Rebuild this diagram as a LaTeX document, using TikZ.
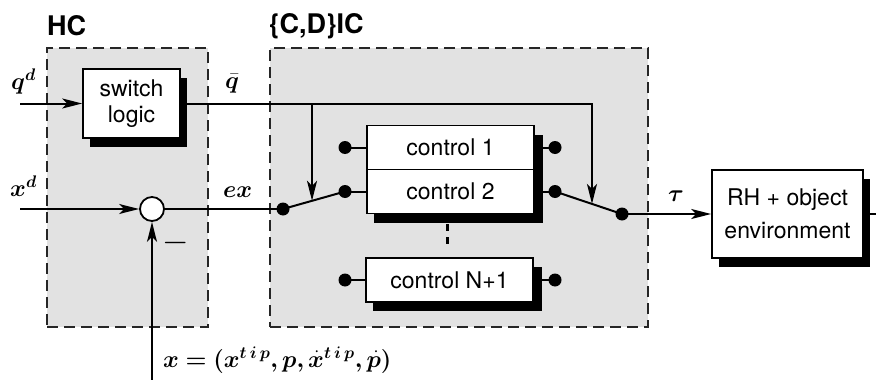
\RequirePackage{fix-cm}
\documentclass[tikz,border=0pt]{standalone}
\usepackage{fontspec}
\setsansfont{TeX Gyre Heros}
\usepackage{bm}
\usetikzlibrary{arrows.meta,shadows,calc}
\definecolor{regiongray}{RGB}{226,226,226}

\tikzset{
  region/.style={draw=black!85, fill=regiongray, line width=2.4pt,
    dash pattern=on 11pt off 6pt, inner sep=0pt},
  blk/.style={draw, fill=white, line width=1.6pt, align=center, inner sep=2pt,
    font=\sffamily\fontsize{23}{26}\selectfont,
    drop shadow={shadow xshift=7pt, shadow yshift=-9pt, fill=black, opacity=1}},
  ctrl/.style={blk, minimum width=167, minimum height=44,
    drop shadow={shadow xshift=9pt, shadow yshift=-9pt, fill=black, opacity=1}},
  title/.style={font=\sffamily\bfseries\fontsize{27}{30}\selectfont, inner sep=0pt},
  lab/.style={font=\fontsize{24}{28}\selectfont, inner sep=0pt},
  dot/.style={circle, fill=black, inner sep=0pt, minimum size=13pt},
  sumc/.style={circle, draw, fill=white, line width=1.8pt, inner sep=0pt, minimum size=24pt},
  wire/.style={line width=2pt},
  >={Stealth[length=20pt,width=10pt,inset=5pt]}
}

\begin{document}
\begin{tikzpicture}[x=1pt,y=-1pt]
\useasboundingbox (0,0) rectangle (876,380);

% controller regions
\node[region, minimum width=161, minimum height=279] (hc) at (127.5,187.5) {};
\node[region, minimum width=378, minimum height=279] (cdic) at (459,187.5) {};
\node[title, anchor=base west] (hclabel) at (47,35) {HC};
\node[title, anchor=base west] (cdlabel) at (269,34) {\{C,D\}IC};

% blocks
\node[blk, minimum width=97, minimum height=69] (sl) at (131.5,103.5) {switch\\logic};
\node[ctrl] (c1) at (450.5,147.5) {control 1};
\node[ctrl] (c2) at (450.5,191.5) {control 2};
\node[ctrl] (cN) at (449.5,280) {control N+1};
\node[blk, minimum width=151, minimum height=88,
      font=\sffamily\fontsize{23}{33}\selectfont] (rh) at (787.5,214) {RH + object\\environment};

% summing junction
\node[sumc] (sum) at (152,209) {};

% switch terminals
\node[dot] (l1) at (345,147.5) {};
\node[dot] (l2) at (345,191.5) {};
\node[dot] (l3) at (345,280) {};
\node[dot] (r1) at (555,147.5) {};
\node[dot] (r2) at (555,191.5) {};
\node[dot] (r3) at (555,280) {};
\node[dot] (sw1) at (283,209) {};
\node[dot] (sw2) at (622,214) {};

% free ends
\coordinate (qin) at (20,103.5);
\coordinate (xin) at (20,209);
\coordinate (fb) at (152,380);
\coordinate (out) at (876,214);

% terminal leads
\draw[wire] (l1.center) -- (c1.west);
\draw[wire] (l2.center) -- (c2.west);
\draw[wire] (l3.center) -- (cN.west);
\draw[wire] (c1.east) -- (r1.center);
\draw[wire] (c2.east) -- (r2.center);
\draw[wire] (cN.east) -- (r3.center);
\draw[line width=2.2pt, dash pattern=on 7pt off 6pt]
  ($(c2.south)+(-3,10)$) -- ($(cN.north)+(-2,-10)$);

% switch blades
\draw[wire] (sw1.center) -- (l2.center);
\draw[wire] (r2.center) -- (sw2.center);
\coordinate (bl) at ($(sw1)!0.468!(l2)$);
\coordinate (br) at ($(r2)!0.552!(sw2)$);

% signal flow
\draw[wire,->] (qin) -- (sl.west);
\draw[wire,->] (sl.east) -| (br);
\draw[wire,->] (sl.east -| bl) -- (bl);
\draw[wire,->] (xin) -- (sum.west);
\draw[wire] (sum.east) -- (sw1.center);
\draw[wire,->] (fb) -- (sum.south);
\draw[wire,->] (sw2.center) -- (rh.west);
\draw[wire] (rh.east) -- (out);

% signal labels
\node[lab, anchor=base west] (qd) at (11,89) {$\bm{q^d}$};
\node[lab, anchor=base west] (xd) at (10,196) {$\bm{x^d}$};
\node[lab, anchor=base west] (qbar) at (225,88) {$\bar{\bm{q}}$};
\node[lab, anchor=base west] (ex) at (223,197) {$\bm{e x}$};
\node[lab, anchor=base west] (tau) at (668,201) {$\bm{\tau}$};
\node[font=\fontsize{34}{34}\selectfont, inner sep=0pt] (minus) at (176,243) {$-$};
\node[lab, anchor=base west] (xeq) at (163,367)
  {$\bm{x = (x^{t\,i\,p}, p, \dot{x}^{t\,i\,p}, \dot{p})}$};
\end{tikzpicture}
\end{document}
